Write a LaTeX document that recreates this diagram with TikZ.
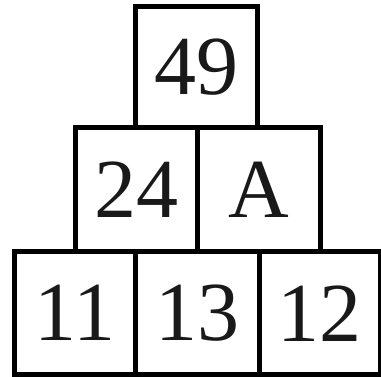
\documentclass[tikz,border=0pt]{standalone}
\usepackage{fontspec}
\setmainfont{Liberation Serif}
\begin{document}
\begin{tikzpicture}[x=1pt,y=-1pt,
  box/.style={draw=black, line width=5pt, inner sep=0pt, minimum width=122pt, minimum height=122pt,
    text=black!90, font=\fontsize{84}{90}\selectfont}]
\useasboundingbox (0,0) rectangle (381,377);
\node[box, minimum height=121pt] (n49) at (196.5,67) {49};
\node[box, minimum height=124.5pt] (n24) at (136.5,189.75) {24};
\node[box, minimum height=124.5pt, minimum width=123pt] (nA) at (259,189.75) {A};
\node[box, minimum height=122.5pt, minimum width=121pt] (n11) at (75,313.25) {11};
\node[box, minimum height=122.5pt, minimum width=124pt] (n13) at (197.5,313.25) {13};
\node[box, minimum height=122.5pt, minimum width=120.5pt] (n12) at (319.75,313.25) {12};
\end{tikzpicture}
\end{document}
